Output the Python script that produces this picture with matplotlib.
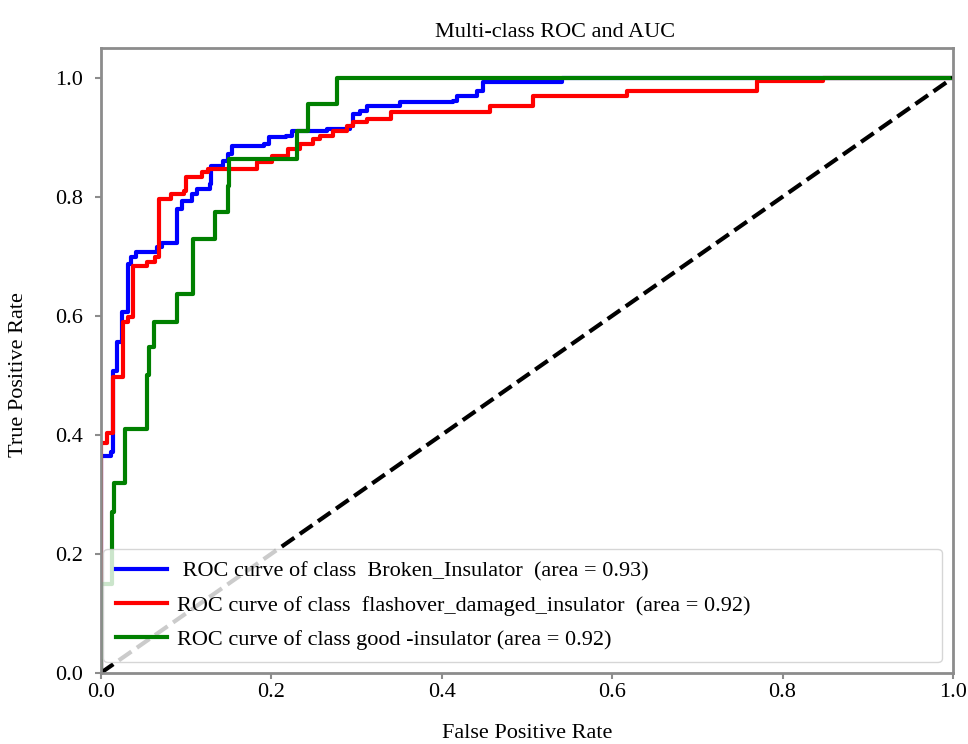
import numpy as np
import matplotlib
matplotlib.use("Agg")
import matplotlib.pyplot as plt

# ROC curves (fpr where each vertical step happens, tpr after it)
fpr_broken = [0.0, 0.0, 0.012, 0.014, 0.019, 0.025, 0.032, 0.036, 0.042, 0.066, 0.072,
              0.089, 0.096, 0.107, 0.113, 0.128, 0.130, 0.143, 0.149, 0.154, 0.192,
              0.198, 0.218, 0.224, 0.265, 0.292, 0.296, 0.304, 0.312, 0.351, 0.413,
              0.418, 0.441, 0.448, 0.541, 1.0]
tpr_broken = [0.0, 0.364, 0.372, 0.507, 0.556, 0.606, 0.687, 0.699, 0.707, 0.715, 0.722,
              0.779, 0.793, 0.805, 0.813, 0.822, 0.852, 0.860, 0.872, 0.886, 0.889,
              0.900, 0.902, 0.911, 0.914, 0.919, 0.939, 0.944, 0.953, 0.960, 0.961,
              0.970, 0.978, 0.993, 1.0, 1.0]

fpr_flash = [0.0, 0.0, 0.008, 0.014, 0.026, 0.032, 0.038, 0.054, 0.064, 0.069, 0.083,
             0.098, 0.100, 0.119, 0.126, 0.183, 0.201, 0.220, 0.234, 0.249, 0.257,
             0.272, 0.289, 0.296, 0.312, 0.341, 0.457, 0.507, 0.617, 0.770, 0.848, 1.0]
tpr_flash = [0.0, 0.387, 0.404, 0.498, 0.589, 0.598, 0.683, 0.690, 0.699, 0.796, 0.805,
             0.810, 0.833, 0.842, 0.847, 0.859, 0.869, 0.880, 0.889, 0.897, 0.902,
             0.910, 0.919, 0.926, 0.931, 0.943, 0.953, 0.970, 0.978, 0.995, 1.0, 1.0]

fpr_good = [0.0, 0.0, 0.013, 0.016, 0.028, 0.054, 0.057, 0.063, 0.089, 0.108, 0.134,
            0.149, 0.151, 0.230, 0.243, 0.277, 1.0]
tpr_good = [0.0, 0.15, 0.27, 0.32, 0.41, 0.50, 0.547, 0.59, 0.636, 0.729, 0.774,
            0.818, 0.864, 0.911, 0.956, 1.0, 1.0]

labels = [" ROC curve of class  Broken_Insulator  (area = 0.93)",
          "ROC curve of class  flashover_damaged_insulator  (area = 0.92)",
          "ROC curve of class good -insulator (area = 0.92)"]
colors = ["blue", "red", "green"]

plt.rcParams["font.family"] = ["Liberation Serif", "DejaVu Serif"]

fig = plt.figure(figsize=(9.68, 7.44), dpi=100)
ax = fig.add_axes([0.104, 0.0954, 0.8805, 0.8401])

curves = [(fpr_broken, tpr_broken), (fpr_flash, tpr_flash), (fpr_good, tpr_good)]
for (f, t), c, lab in zip(curves, colors, labels):
    ax.plot(f, t, color=c, lw=3, drawstyle="steps-post", label=lab)

ax.plot([0, 1], [0, 1], "k--", lw=3)

ax.set_xlim(0.0, 1.0)
ax.set_ylim(0.0, 1.05)
ax.set_xticks(np.arange(0, 1.01, 0.2))
ax.set_yticks(np.arange(0, 1.01, 0.2))
ax.tick_params(labelsize=16, color="#8c8c8c", length=4, width=1.5)
ax.tick_params(axis="x", pad=3)
ax.tick_params(axis="y", pad=9)
for s in ax.spines.values():
    s.set_color("#8c8c8c")
    s.set_linewidth(2)

ax.set_xlabel("False Positive Rate", fontsize=16, labelpad=16)
ax.set_ylabel("True Positive Rate", fontsize=16, labelpad=19)
ax.yaxis.label.set_y(0.478)
ax.set_title("Multi-class ROC and AUC", fontsize=16, pad=8, x=0.533)

ax.legend(loc="lower left", bbox_to_anchor=(0.003, 0.017, 0.984, 0.2), mode="expand",
          borderaxespad=0, fontsize=16, handlelength=2.3, handletextpad=0.45,
          labelspacing=0.61, borderpad=0.56)

fig.savefig("out.png", dpi=100)
